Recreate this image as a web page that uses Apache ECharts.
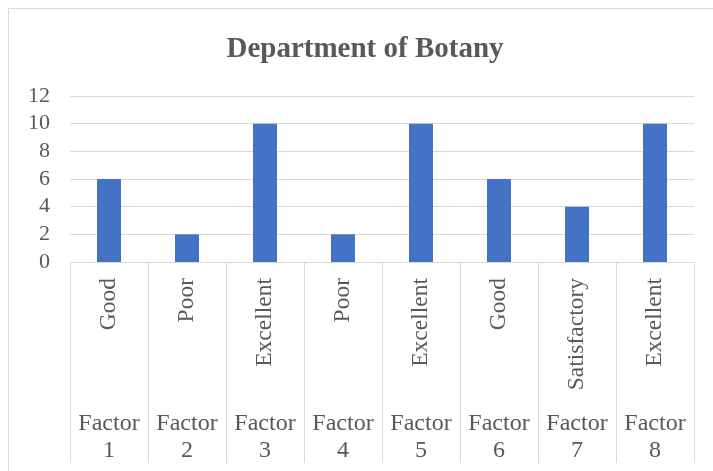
<!DOCTYPE html>
<html>
<head>
<meta charset="utf-8">
<script src="https://cdn.jsdelivr.net/npm/echarts@6/dist/echarts.min.js"></script>
<style>
  html, body { margin: 0; padding: 0; background: #fff; }
  #chart { width: 713px; height: 471px; }
</style>
</head>
<body>
<div id="chart"></div>
<script>
// Scores per factor and the rating word shown under each bar
const factors = ['Factor\n1', 'Factor\n2', 'Factor\n3', 'Factor\n4', 'Factor\n5', 'Factor\n6', 'Factor\n7', 'Factor\n8'];
const ratings = ['Good', 'Poor', 'Excellent', 'Poor', 'Excellent', 'Good', 'Satisfactory', 'Excellent'];
const scores = [6, 2, 10, 2, 10, 6, 4, 10];
const yTicks = { min: 0, max: 12, interval: 2 };

const FONT = '"Liberation Serif", "Times New Roman", serif';
const TEXT = '#595959';
const GRID = '#d9d9d9';

const chart = echarts.init(document.getElementById('chart'), null, { renderer: 'canvas' });
chart.setOption({
  backgroundColor: '#fff',
  animation: false,
  title: {
    text: 'Department of Botany',
    left: 360,
    textAlign: 'center',
    top: 30,
    textStyle: { fontFamily: FONT, fontSize: 29, fontWeight: 'bold', color: TEXT }
  },
  graphic: [{
    type: 'rect',
    shape: { x: 8.5, y: 8.5, width: 720, height: 480 },
    style: { fill: 'none', stroke: GRID, lineWidth: 1 },
    silent: true, z: -1
  }],
  grid: { left: 70, right: 19, top: 96, bottom: 209 },
  xAxis: [{
    type: 'category',
    data: ratings,
    position: 'bottom',
    axisLine: { show: true, lineStyle: { color: GRID, width: 1 } },
    axisTick: { show: true, length: 131, interval: 0, lineStyle: { color: GRID } },
    axisLabel: {
      interval: 0, rotate: 90, margin: 16,
      fontFamily: FONT, fontSize: 23.5, color: TEXT
    },
    splitLine: { show: false }
  }, {
    type: 'category',
    data: factors,
    position: 'bottom',
    offset: 131,
    axisLine: { show: false },
    axisTick: { show: true, length: 70, interval: 0, lineStyle: { color: GRID } },
    axisLabel: {
      interval: 0, margin: 17, lineHeight: 27,
      fontFamily: FONT, fontSize: 24, color: TEXT
    },
    splitLine: { show: false }
  }],
  yAxis: {
    type: 'value',
    min: yTicks.min, max: yTicks.max, interval: yTicks.interval,
    axisLine: { show: false },
    axisTick: { show: false },
    axisLabel: { margin: 20, fontFamily: FONT, fontSize: 22, color: TEXT },
    splitLine: { lineStyle: { color: GRID, width: 1 } }
  },
  series: [{
    type: 'bar',
    xAxisIndex: 0,
    data: scores,
    barWidth: 24,
    itemStyle: { color: '#4472c4' }
  }]
});
</script>
</body>
</html>
